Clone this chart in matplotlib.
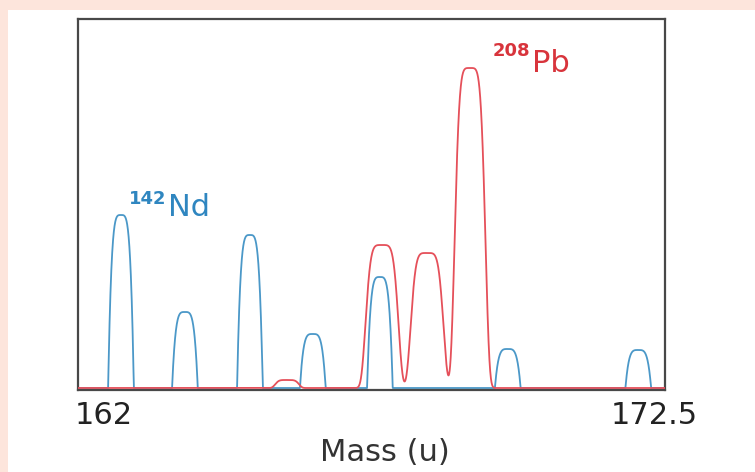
import numpy as np
import matplotlib
matplotlib.use("Agg")
import matplotlib.pyplot as plt
from matplotlib.patches import Rectangle

# ---- data ----
x_range = [161.5, 172.7]
tick_values = [162, 172.5]
tick_labels = ["162", "172.5"]
x_label = "Mass (u)"

nd_centers = [162.32, 163.54, 164.78, 165.98, 167.26, 169.70, 172.19]
nd_heights = [173, 76, 153, 54, 111, 39, 38]
nd_halfwidth = 0.245

pb_centers = [165.49, 167.30, 168.16, 168.98]
pb_heights = [8, 143, 135, 320]
pb_widths = [0.24, 0.33, 0.33, 0.31]

nd_label = ("142", "Nd")
pb_label = ("208", "Pb")

BLUE = "#4b98c8"
RED = "#e5505a"
BLUE_TXT = "#2f86c0"
RED_TXT = "#d8343c"

# ---- profiles ----
x = np.linspace(x_range[0], x_range[1], 4000)
nd = np.zeros_like(x)
for c, h in zip(nd_centers, nd_heights):
    d = np.abs(x - c) / nd_halfwidth
    nd += np.where(d < 1, h * (1 - d ** 4), 0)
pb = np.zeros_like(x)
for c, h, w in zip(pb_centers, pb_heights, pb_widths):
    pb += h * np.exp(-(np.abs(x - c) / w) ** 5)

fig = plt.figure(figsize=(7.55, 4.72), dpi=100)
fig.patch.set_facecolor("#fde5dc")
bg = Rectangle((8 / 755, 0), 1, (472 - 10) / 472,
               transform=fig.transFigure, facecolor="white",
               edgecolor="none", zorder=-10)
fig.patches.append(bg)

ax = fig.add_axes([78 / 755, 82 / 472, 587 / 755, 371 / 472])
ax.set_zorder(1)
ax.set_facecolor("white")
ax.plot(x, nd, color=BLUE, lw=1.3, zorder=2)
ax.plot(x, pb, color=RED, lw=1.3, zorder=3)
ax.set_xlim(x_range)
ax.set_ylim(-2, 369)
ax.set_yticks([])
ax.set_xticks(tick_values)
ax.set_xticklabels(tick_labels)
ax.tick_params(axis="x", length=0, pad=8, labelsize=22, labelcolor="#222222")
ax.set_xlabel(x_label, fontsize=22, color="#333333", labelpad=6)
ax.xaxis.label.set_x((385 - 78) / 587)
for s in ax.spines.values():
    s.set_color("#484848")
    s.set_linewidth(1.6)

# labels
ax.text(163.19, 189.5, nd_label[0], color=BLUE_TXT, fontsize=13,
        fontweight="bold", ha="right", va="center")
ax.text(163.22, 181, nd_label[1], color=BLUE_TXT, fontsize=22,
        ha="left", va="center")
ax.text(170.12, 337.5, pb_label[0], color=RED_TXT, fontsize=13,
        fontweight="bold", ha="right", va="center")
ax.text(170.16, 324, pb_label[1], color=RED_TXT, fontsize=22,
        ha="left", va="center")

fig.savefig("out.png", dpi=100, facecolor=fig.get_facecolor())
